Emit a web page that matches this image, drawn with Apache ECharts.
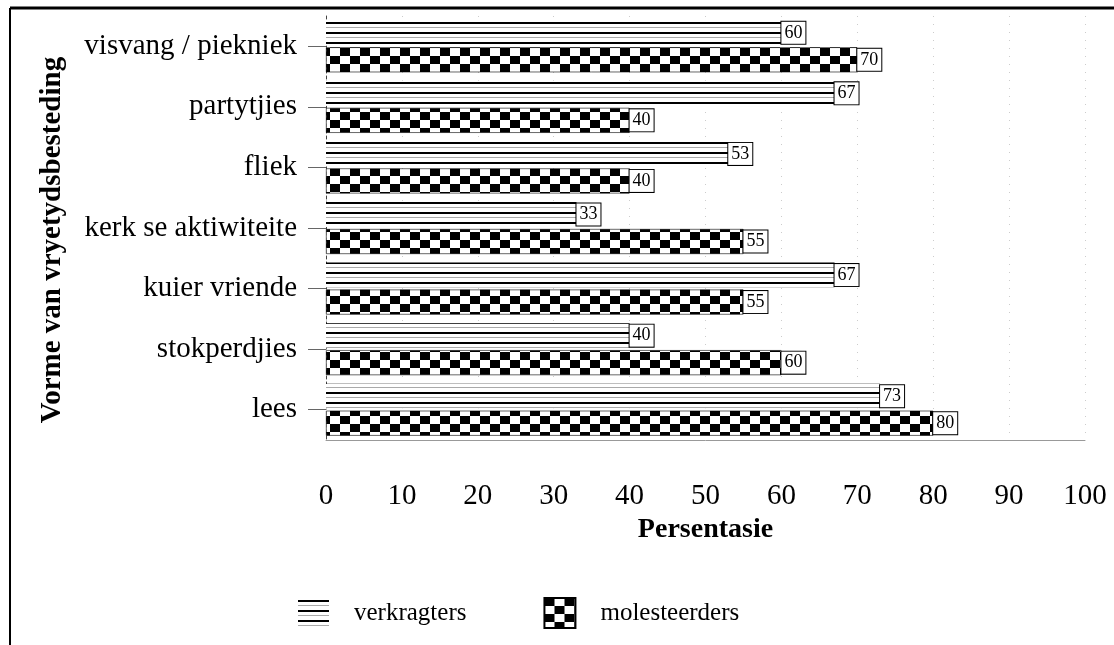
<!DOCTYPE html>
<html>
<head>
<meta charset="utf-8">
<script src="https://cdn.jsdelivr.net/npm/echarts@6/dist/echarts.min.js"></script>
<style>html,body{margin:0;padding:0;background:#fff}#c{width:1114px;height:645px}</style>
</head>
<body>
<div id="c"></div>
<script>
const categories = ['visvang / piekniek', 'partytjies', 'fliek', 'kerk se aktiwiteite', 'kuier vriende', 'stokperdjies', 'lees'];
const verkragters = [60, 67, 53, 33, 67, 40, 73];
const molesteerders = [70, 40, 40, 55, 55, 60, 80];
const seriesNames = ['verkragters', 'molesteerders'];
const xTicks = {min: 0, max: 100, interval: 10};

function stripes() {
  const c = document.createElement('canvas');
  c.width = 10; c.height = 10;
  const g = c.getContext('2d');
  g.fillStyle = '#fff'; g.fillRect(0, 0, 10, 10);
  g.fillStyle = '#000'; g.fillRect(0, 2, 10, 2);
  g.fillStyle = '#aaa'; g.fillRect(0, 7, 10, 1);
  return c;
}
function checker() {
  const c = document.createElement('canvas');
  c.width = 20; c.height = 16;
  const g = c.getContext('2d');
  g.fillStyle = '#fff'; g.fillRect(0, 0, 20, 16);
  g.fillStyle = '#000';
  g.fillRect(0, 0, 10, 8);
  g.fillRect(10, 8, 10, 8);
  return c;
}
const FONT = '"Liberation Serif", "DejaVu Serif", serif';
const labelStyle = {
  show: true, position: 'right', distance: 0,
  backgroundColor: '#fff', borderColor: '#000', borderWidth: 1,
  padding: [3, 3, 1, 3], fontFamily: FONT, fontSize: 18, color: '#000'
};

const chart = echarts.init(document.getElementById('c'), null, {renderer: 'canvas'});
chart.setOption({
  animation: false,
  backgroundColor: '#fff',
  grid: {left: 326, top: 16, width: 759, height: 424, containLabel: false},
  legend: {
    left: 293, top: 592, itemWidth: 31, itemHeight: 30, itemGap: 77,
    icon: 'rect',
    textStyle: {fontFamily: FONT, fontSize: 25, color: '#000', padding: [0, 0, 0, 20]},
    data: seriesNames
  },
  xAxis: {
    type: 'value', min: xTicks.min, max: xTicks.max, interval: xTicks.interval,
    name: 'Persentasie', nameLocation: 'middle', nameGap: 73,
    nameTextStyle: {fontFamily: FONT, fontSize: 28, fontWeight: 'bold', color: '#000'},
    axisLine: {show: true, lineStyle: {color: '#999', width: 1}},
    axisTick: {show: false},
    axisLabel: {fontFamily: FONT, fontSize: 29, color: '#000', margin: 42},
    splitLine: {show: true, lineStyle: {color: '#ccc', type: [1, 7], width: 1}}
  },
  yAxis: {
    type: 'category', data: categories, inverse: true,
    name: 'Vorme van vryetydsbesteding', nameLocation: 'middle', nameGap: 259, nameRotate: 90,
    nameTextStyle: {fontFamily: FONT, fontSize: 29, fontWeight: 'bold', color: '#000', padding: [0, 24, 0, 0]},
    axisLine: {show: true, lineStyle: {color: '#444', width: 1, type: [3, 3]}},
    axisTick: {show: true, alignWithLabel: true, length: 18, lineStyle: {color: '#666', width: 1}},
    axisLabel: {fontFamily: FONT, fontSize: 29, color: '#000', margin: 29},
    splitLine: {show: false}
  },
  series: [
    {
      name: seriesNames[0], type: 'bar', data: verkragters,
      barWidth: 25, barGap: '8%',
      itemStyle: {color: {image: stripes(), repeat: 'repeat'}},
      label: labelStyle
    },
    {
      name: seriesNames[1], type: 'bar', data: molesteerders,
      barWidth: 25,
      itemStyle: {color: {image: checker(), repeat: 'repeat'}, borderColor: '#000', borderWidth: 0.6},
      label: labelStyle
    }
  ],
  graphic: [
    {type: 'line', shape: {x1: 10, y1: 8, x2: 1114, y2: 8}, style: {stroke: '#000', lineWidth: 3}},
    {type: 'line', shape: {x1: 10, y1: 8, x2: 10, y2: 645}, style: {stroke: '#000', lineWidth: 2}},
    {type: 'text', x: 572, y: 1, style: {text: 'vryetydsbesteding', fontFamily: FONT, fontSize: 30, fontWeight: 'bold', fill: '#000', verticalAlign: 'bottom'}}
  ]
});
</script>
</body>
</html>
